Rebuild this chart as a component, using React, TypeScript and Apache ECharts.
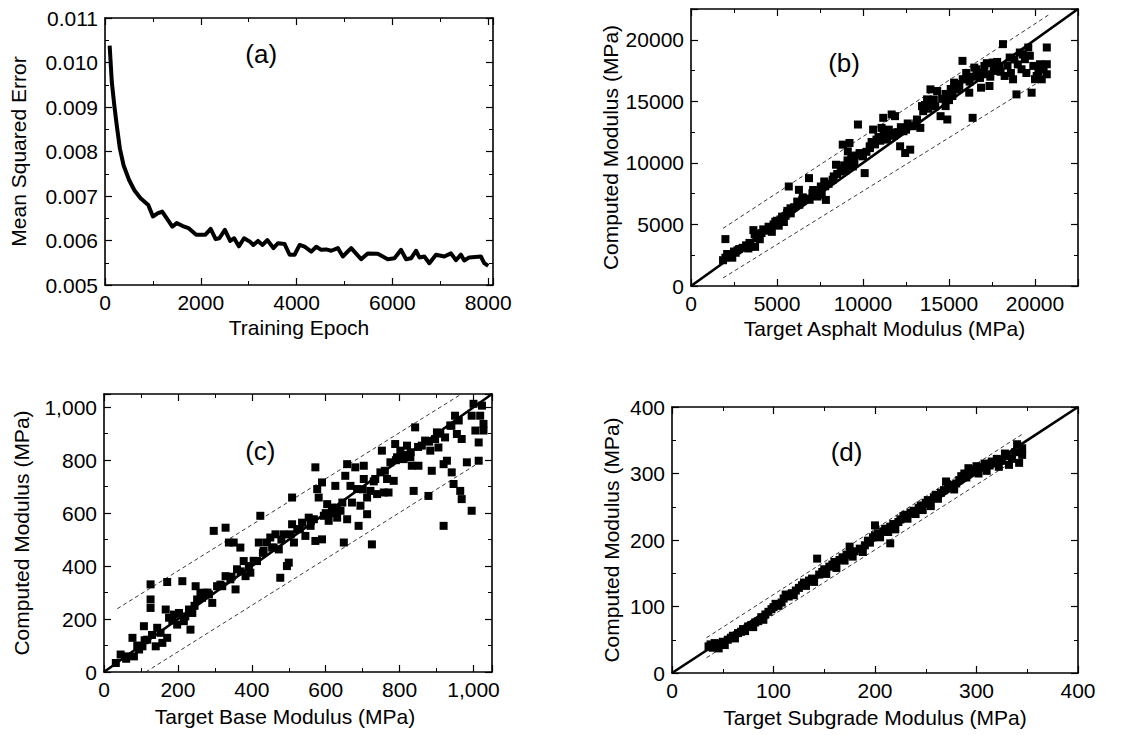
import React, { useEffect, useRef } from "react";
import * as echarts from "echarts";

const FONT = "'Liberation Sans', Arial, Helvetica, sans-serif";

// Panel (a): training curve
const epochA = [97,142,194,245,310,387,503,613,742,903,1000,1097,1194,1406,1497,1613,1742,1903,2097,2206,2310,2387,2503,2613,2697,2794,2903,3019,3097,3194,3290,3387,3516,3613,3750,3854,3958,4063,4167,4306,4410,4514,4618,4722,4861,4965,5139,5347,5486,5694,5903,6042,6181,6285,6389,6493,6563,6667,6771,6910,7083,7222,7326,7431,7500,7604,7847,7917,8000];
const mseA = [0.01038,0.00956,0.00904,0.00859,0.00807,0.00769,0.00736,0.00713,0.00695,0.0068,0.00654,0.00661,0.00665,0.00631,0.00639,0.00633,0.00628,0.00613,0.00613,0.00626,0.00603,0.00605,0.00624,0.00599,0.00605,0.00587,0.00605,0.00598,0.0059,0.00599,0.0059,0.00601,0.00583,0.00594,0.00592,0.00568,0.00568,0.0059,0.00586,0.00575,0.00586,0.00579,0.0058,0.00577,0.00583,0.00564,0.00583,0.00558,0.00571,0.0057,0.00558,0.0056,0.00579,0.00558,0.0056,0.00577,0.00562,0.00564,0.00549,0.00568,0.00564,0.00571,0.00556,0.00568,0.00555,0.00562,0.00564,0.00549,0.00543];

// Panel (b): asphalt modulus
const pointsB: [number, number][] = [
[2000,3810],[1863,2095],[2000,2300],[2100,2600],[2300,2500],[2500,2800],[2700,2900],[3333,3050],[3725,3180],[3627,4540],[3700,4200],[4314,4540],[4510,4816],[4900,5224],[5294,5633],[5588,5905],[5686,8082],[5784,6313],[6176,6857],[6275,7810],[6470,6993],[6862,8762],[7059,7537],[7353,7265],[7549,8082],[7745,8490],[7843,6993],[8235,8626],[8431,9850],[8725,9442],[8823,11483],[9118,10939],[9216,11619],[9314,10531],[9412,9714],[9706,13116],[10000,10531],[10098,9170],[10392,11347],[10588,12707],[10784,11891],[11078,12843],[11176,13660],[11373,11891],[11569,12435],[11667,13932],[11863,13796],[12157,11347],[12353,12571],[12451,10803],[12745,11075],[12843,12980],[13137,13524],[13333,12843],[13431,14612],[13725,15156],[13922,15973],[14118,15156],[14314,15837],[14510,13796],[14804,14612],[14902,13524],[15196,15429],[15294,16517],[15490,15973],[15784,18286],[15980,16789],[16176,15701],[16373,13660],[16471,17741],[16667,17061],[16863,16109],[17059,17878],[17255,17197],[17353,16245],[17549,18150],[17745,17469],[17941,17878],[18137,19646],[18235,17061],[18529,18558],[18725,16789],[18922,15565],[19118,18966],[19216,17605],[19412,18422],[19608,19374],[19804,15701],[19902,17878],[20098,17061],[20294,18014],[20392,16789],[20686,19374],[20686,18014],[20686,17197],
[2200,2400],[2400,2300],[2600,2700],[2800,3000],[3000,3100],[3200,3300],[3400,3500],[3500,3200],[3800,3900],[3900,4200],[4000,3800],[4100,4300],[4200,4600],[4400,4500],[4600,4700],[4700,4400],[4800,5000],[5000,5300],[5100,4900],[5200,5400],[5400,5200],[5500,5700],[5600,6100],[5800,5900],[6000,6400],[6300,6600],[6500,7200],[6700,7100],[6900,7000],[7100,7800],[7200,7500],[7400,7700],[7600,7400],[7800,8100],[8000,8300],[8300,8900],[8500,9100],[8700,9300],[8900,9800],[9000,9400],[9100,10200],[9300,9900],[9500,10000],[9600,10600],[9800,10800],[10200,10900],[10400,11200],[10500,11700],[10700,11500],[10900,12100],[11000,11800],[11200,12300],[11400,12000],[11500,12700],[11800,12200],[12000,12500],[12200,12900],[12500,12700],[12600,13200],[12900,13000],[13100,13200],[13500,14200],[13600,14700],[13800,14400],[14000,14900],[14200,14600],[14600,15200],[14800,15600],[15000,15100],[15100,16000],[15400,16400],[15600,16200],[15800,16800],[16000,17300],[16200,16600],[16400,17000],[16600,17600],[16800,16900],[17000,17300],[17200,18100],[17400,17000],[17600,17600],[17800,18200],[18000,17400],[18400,17900],[18600,17300],[18800,18400],[19000,18000],[19300,18800],[19500,17300],[19700,18700],[20000,16800],[20200,17400],[20500,17600]
];
const upperB: [number, number][] = [[1860,4680],[20780,22010]];
const lowerB: [number, number][] = [[1860,650],[20780,17060]];

// Panel (c): base modulus
const pointsC: [number, number][] = [
[32,34],[45,66],[59,59],[77,129],[81,59],[95,85],[104,97],[108,173],[117,122],[126,331],[126,274],[126,242],[140,97],[144,167],[153,148],[158,110],[171,129],[167,236],[171,340],[176,205],[189,217],[198,179],[203,223],[212,343],[216,192],[230,236],[234,160],[239,223],[248,324],[252,274],[261,299],[270,299],[284,293],[293,261],[297,533],[306,324],[320,324],[329,545],[329,362],[338,489],[342,350],[351,489],[356,312],[360,388],[369,470],[378,419],[383,362],[392,400],[396,375],[414,419],[419,489],[423,590],[432,457],[441,489],[450,508],[459,470],[464,520],[473,463],[477,356],[486,520],[495,400],[500,413],[505,520],[509,659],[509,558],[514,489],[523,539],[536,564],[545,514],[554,583],[559,552],[568,577],[572,773],[572,495],[577,691],[581,659],[590,716],[590,501],[595,590],[604,634],[608,571],[617,621],[622,602],[626,703],[631,583],[640,609],[649,489],[653,741],[658,785],[658,577],[667,703],[671,640],[680,773],[685,691],[689,552],[694,628],[703,729],[703,779],[712,659],[712,596],[721,684],[725,482],[734,729],[739,672],[748,754],[752,836],[757,678],[766,729],[770,678],[775,792],[784,722],[788,861],[793,811],[802,836],[811,804],[820,855],[829,811],[833,779],[838,684],[842,924],[851,779],[860,855],[869,874],[878,665],[883,836],[887,760],[896,880],[901,905],[905,848],[919,785],[919,552],[923,886],[928,798],[937,931],[941,754],[946,710],[950,968],[955,899],[964,684],[968,880],[968,653],[982,792],[995,968],[995,609],[1000,1013],[1005,912],[1014,867],[1014,798],[1018,968],[1023,1006],[1027,937],[1027,912],
[60,50],[90,100],[110,120],[130,140],[185,195],[220,210],[245,250],[265,280],[280,300],[315,330],[345,360],[370,380],[405,420],[430,450],[455,470],[480,500],[530,540],[560,570],[600,600],[615,600],[630,620],[645,640],[700,690],[730,720],[760,760],[790,800],[810,820],[830,830],[850,850],[880,870],[910,900],[940,930],[960,950]
];
const upperC: [number, number][] = [[36,239],[964,1047]];
const lowerC: [number, number][] = [[113,0],[1005,782]];

// Panel (d): subgrade modulus
const pointsD: [number, number][] = [
[36,40],[38,43],[40,38],[42,45],[44,41],[46,37],[48,44],[50,47],[52,42],[55,50],[58,53],[60,56],[62,52],[65,60],[68,62],[70,66],[72,63],[75,70],[78,72],[80,69],[82,76],[85,78],[88,84],[90,80],[92,88],[95,92],[98,96],[100,99],[102,104],[105,101],[108,106],[110,112],[112,118],[115,115],[118,120],[120,117],[122,124],[125,128],[128,132],[130,136],[132,131],[135,139],[138,142],[140,137],[143,172],[145,148],[148,152],[150,156],[152,149],[155,160],[158,163],[160,167],[162,158],[165,170],[168,174],[170,169],[172,178],[175,190],[176,180],[178,175],[180,183],[185,187],[188,182],[190,192],[193,199],[195,196],[198,204],[200,222],[200,207],[203,210],[205,204],[208,213],[210,217],[213,212],[215,195],[215,220],[218,224],[220,216],[223,227],[225,231],[228,236],[230,238],[232,232],[235,241],[238,244],[240,239],[243,248],[245,252],[247,245],[250,256],[252,260],[255,251],[258,264],[260,268],[262,262],[265,271],[268,275],[270,288],[272,279],[275,283],[278,276],[280,285],[283,290],[285,296],[288,300],[290,294],[292,308],[295,302],[298,306],[300,311],[302,300],[305,309],[308,315],[310,304],[313,312],[315,318],[318,315],[320,322],[322,310],[325,319],[328,330],[330,326],[332,313],[335,322],[338,332],[340,344],[342,316],[345,328],[345,338]
];
const upperD: [number, number][] = [[34,53],[345,359]];
const lowerD: [number, number][] = [[34,23],[345,327]];

const panelLabels = ["(a)", "(b)", "(c)", "(d)"];
const labelAnchors: [number, number][] = [[3260, 0.0102], [8900, 18150], [423, 836], [172, 332]];

const GRIDS = [
  { left: 105, top: 18, width: 388, height: 267 },
  { left: 691, top: 9, width: 387, height: 277 },
  { left: 104, top: 394, width: 388, height: 278 },
  { left: 672, top: 407, width: 406, height: 266 },
];

type AxisSpec = { min: number; max: number; interval: number; showMax: boolean; fmt: (v: number) => string; name: string; gap: number; shift: number };

const plain = (v: number) => String(Math.round(v));
const comma = (v: number) => Math.round(v).toLocaleString("en-US");

const XAXES: AxisSpec[] = [
  { min: 0, max: 8100, interval: 2000, showMax: false, fmt: plain, name: "Training Epoch", gap: 32, shift: 0 },
  { min: 0, max: 22500, interval: 5000, showMax: false, fmt: plain, name: "Target Asphalt Modulus (MPa)", gap: 32, shift: 0 },
  { min: 0, max: 1050, interval: 200, showMax: false, fmt: comma, name: "Target Base Modulus (MPa)", gap: 34, shift: 26 },
  { min: 0, max: 400, interval: 100, showMax: true, fmt: plain, name: "Target Subgrade Modulus (MPa)", gap: 34, shift: 0 },
];
const YAXES: AxisSpec[] = [
  { min: 0.005, max: 0.011, interval: 0.001, showMax: true, fmt: (v) => v.toFixed(3), name: "Mean Squared Error", gap: 76, shift: 0 },
  { min: 0, max: 22500, interval: 5000, showMax: false, fmt: plain, name: "Computed Modulus (MPa)", gap: 70, shift: 0 },
  { min: 0, max: 1050, interval: 200, showMax: false, fmt: comma, name: "Computed Modulus (MPa)", gap: 72, shift: 0 },
  { min: 0, max: 400, interval: 100, showMax: true, fmt: plain, name: "Computed Modulus (MPa)", gap: 50, shift: 0 },
];

const INK = "#000";

function makeAxis(spec: AxisSpec, gridIndex: number, position: string, primary: boolean) {
  return {
    type: "value",
    gridIndex,
    position,
    min: spec.min,
    max: spec.max,
    interval: spec.interval,
    name: primary ? spec.name : "",
    nameLocation: "middle",
    nameGap: spec.gap,
    nameTextStyle: { color: INK, fontSize: 21, fontFamily: FONT, padding: [0, spec.shift, 0, 0] },
    axisLine: { show: true, onZero: false, lineStyle: { color: INK, width: 1.6 } },
    axisTick: { show: true, inside: true, length: 7, lineStyle: { color: INK, width: 1.2 } },
    minorTick: { show: true, splitNumber: 2, length: 4, lineStyle: { color: INK, width: 1 } },
    splitLine: { show: false },
    minorSplitLine: { show: false },
    axisLabel: {
      show: primary,
      color: INK,
      fontSize: 21,
      fontFamily: FONT,
      margin: 7,
      showMaxLabel: spec.showMax,
      formatter: (v: number) => spec.fmt(v),
    },
  };
}

export default function App() {
  const ref = useRef<HTMLDivElement>(null);
  useEffect(() => {
    document.body.style.margin = "0";
    if (!ref.current) return;
    const chart = echarts.init(ref.current, undefined, { renderer: "svg" });

    const xAxis: any[] = [];
    const yAxis: any[] = [];
    for (let i = 0; i < 4; i++) xAxis.push(makeAxis(XAXES[i], i, "bottom", true));
    for (let i = 0; i < 4; i++) xAxis.push(makeAxis(XAXES[i], i, "top", false));
    for (let i = 0; i < 4; i++) yAxis.push(makeAxis(YAXES[i], i, "left", true));
    for (let i = 0; i < 4; i++) yAxis.push(makeAxis(YAXES[i], i, "right", false));

    const dashed = (i: number, data: [number, number][]) => ({
      type: "line", xAxisIndex: i, yAxisIndex: i, data, showSymbol: false, symbol: "none",
      lineStyle: { color: "#222", width: 0.9, type: [4, 3] }, z: 2,
    });
    const diag = (i: number) => ({
      type: "line", xAxisIndex: i, yAxisIndex: i,
      data: [[XAXES[i].min, YAXES[i].min], [XAXES[i].max, YAXES[i].max]],
      showSymbol: false, symbol: "none", lineStyle: { color: INK, width: 2.6 }, z: 3,
    });
    const scatter = (i: number, data: [number, number][]) => ({
      type: "scatter", xAxisIndex: i, yAxisIndex: i, data, symbol: "rect", symbolSize: 8,
      itemStyle: { color: INK, opacity: 1 }, z: 4,
    });

    const series: any[] = [
      {
        type: "line", xAxisIndex: 0, yAxisIndex: 0,
        data: epochA.map((e, k) => [e, mseA[k]]),
        showSymbol: false, symbol: "none",
        lineStyle: { color: INK, width: 4, join: "round" },
      },
      diag(1), dashed(1, upperB), dashed(1, lowerB), scatter(1, pointsB),
      diag(2), dashed(2, upperC), dashed(2, lowerC), scatter(2, pointsC),
      diag(3), dashed(3, upperD), dashed(3, lowerD), scatter(3, pointsD),
    ];

    const graphic = panelLabels.map((t, i) => {
      const g = GRIDS[i];
      const xs = XAXES[i], ys = YAXES[i];
      const [vx, vy] = labelAnchors[i];
      const x = g.left + ((vx - xs.min) / (xs.max - xs.min)) * g.width;
      const y = g.top + g.height - ((vy - ys.min) / (ys.max - ys.min)) * g.height;
      return {
        type: "text", x, y,
        style: { text: t, fontSize: 26, fontFamily: FONT, fill: INK, align: "center", verticalAlign: "middle" },
        z: 10,
      };
    });

    chart.setOption({
      animation: false,
      backgroundColor: "#fff",
      grid: GRIDS.map((g) => ({ ...g, containLabel: false })),
      xAxis,
      yAxis,
      series,
      graphic,
    });
    return () => chart.dispose();
  }, []);
  return <div ref={ref} style={{ width: 1134, height: 735 }} />;
}
